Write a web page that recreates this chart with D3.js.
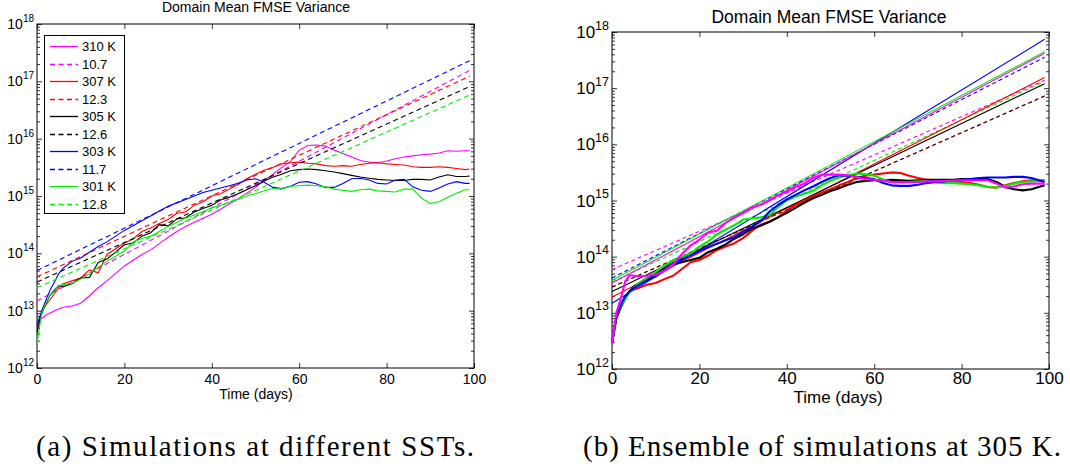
<!DOCTYPE html>
<html><head><meta charset="utf-8">
<script src="https://cdn.jsdelivr.net/npm/d3@7"></script>
<style>
body{margin:0;background:#fff;}
svg{display:block;background:#fff;}
</style></head><body>
<svg id="chart" width="1070" height="467"></svg>
<script>
// ---------------- DATA ----------------
// time axis (days), shared by all time series
const timeDays = [0,1,2,3,4,5,6,
  8,10,12,14,16,18,20,22,24,26,
  28,30,32,34,36,38,40,42,44,46,
  48,50,52,54,56,58,60,62,64,66,
  68,70,72,74,76,78,80,82,84,86,
  88,90,92,94,96,98,99];

// Panel (a): log10 of domain-mean FMSE variance, one series per SST
const sst310 = [12.78,12.86,12.92,12.96,13.00,13.03,13.06,
  13.08,13.13,13.26,13.40,13.52,13.65,13.78,13.88,13.98,14.06,
  14.17,14.28,14.38,14.47,14.54,14.61,14.68,14.77,14.86,14.95,
  15.05,15.15,15.27,15.38,15.50,15.60,15.80,15.88,15.89,15.87,
  15.80,15.74,15.68,15.62,15.59,15.58,15.61,15.65,15.68,15.70,
  15.72,15.73,15.75,15.79,15.78,15.79,15.79];
const sst307 = [12.70,12.95,13.10,13.19,13.30,13.40,13.47,
  13.52,13.57,13.71,13.66,13.98,14.08,14.18,14.25,14.38,14.44,
  14.52,14.59,14.70,14.72,14.84,14.90,15.00,15.04,15.12,15.20,
  15.30,15.38,15.45,15.50,15.56,15.58,15.59,15.57,15.56,15.53,
  15.52,15.53,15.52,15.55,15.57,15.58,15.56,15.55,15.54,15.51,
  15.50,15.50,15.51,15.50,15.48,15.46,15.47];
const sst305 = [12.62,12.95,13.12,13.27,13.36,13.44,13.42,
  13.47,13.57,13.58,13.84,13.90,14.02,14.15,14.18,14.30,14.36,
  14.50,14.48,14.60,14.62,14.72,14.78,14.84,14.93,14.98,15.04,
  15.11,15.18,15.26,15.33,15.38,15.44,15.46,15.47,15.46,15.44,
  15.42,15.39,15.36,15.33,15.31,15.29,15.28,15.27,15.27,15.29,
  15.29,15.28,15.33,15.37,15.34,15.34,15.35];
const sst303 = [12.75,12.98,13.18,13.36,13.50,13.65,13.74,
  13.86,13.92,14.02,14.12,14.20,14.30,14.40,14.48,14.57,14.65,
  14.74,14.82,14.88,14.94,15.00,15.06,15.10,15.14,15.18,15.22,
  15.28,15.30,15.24,15.15,15.13,15.17,15.24,15.25,15.21,15.15,
  15.15,15.22,15.30,15.31,15.28,15.22,15.21,15.28,15.29,15.16,
  15.10,15.08,15.14,15.21,15.25,15.22,15.22];
const sst301 = [12.42,12.92,13.13,13.28,13.37,13.44,13.45,
  13.48,13.55,13.64,13.76,13.86,13.95,14.04,14.20,14.26,14.30,
  14.38,14.47,14.54,14.61,14.67,14.73,14.79,14.84,14.89,14.94,
  15.00,15.04,15.09,15.13,15.12,15.17,15.18,15.19,15.18,15.16,
  15.12,15.10,15.08,15.11,15.12,15.09,15.08,15.07,15.12,15.12,
  14.96,14.87,14.90,14.98,15.05,15.11,15.11];
const sstLabels = ["310 K","307 K","305 K","303 K","301 K"];
const efoldLabels = ["10.7","12.3","12.6","11.7","12.8"];
// exponential fits (straight on log axis): log10 value at fit start / end
const fitDays = [0, 99];
const fitAStart = [13.17, 13.59, 13.50, 13.70, 13.40];
const fitAEnd   = [17.19, 17.09, 16.91, 17.36, 16.76];

// Panel (b): ensemble members at 305 K (log10 variance)
const ensRed = [12.46,12.90,13.10,13.28,13.38,13.42,13.44,
  13.50,13.53,13.60,13.66,13.78,13.90,13.94,14.02,14.12,14.18,
  14.24,14.33,14.46,14.57,14.62,14.70,14.82,14.92,15.00,15.07,
  15.14,15.20,15.27,15.33,15.40,15.44,15.46,15.48,15.50,15.49,
  15.44,15.40,15.37,15.35,15.34,15.34,15.33,15.31,15.28,15.24,
  15.23,15.27,15.31,15.34,15.36,15.36,15.36];
const ensBlack = [12.46,12.92,13.10,13.25,13.38,13.47,13.52,
  13.62,13.70,13.80,13.86,13.90,13.94,13.98,14.08,14.14,14.22,
  14.32,14.40,14.50,14.55,14.62,14.70,14.78,14.87,14.96,15.04,
  15.10,15.17,15.22,15.28,15.33,15.35,15.36,15.36,15.37,15.36,
  15.35,15.36,15.37,15.37,15.37,15.37,15.38,15.38,15.38,15.38,
  15.33,15.24,15.20,15.18,15.20,15.25,15.27];
const ensGreen = [12.46,12.95,13.12,13.25,13.36,13.45,13.52,
  13.62,13.73,13.84,13.94,14.00,14.06,14.18,14.27,14.40,14.48,
  14.56,14.66,14.68,14.70,14.74,14.88,15.00,15.07,15.12,15.17,
  15.27,15.35,15.41,15.45,15.48,15.47,15.44,15.38,15.32,15.32,
  15.33,15.34,15.34,15.32,15.31,15.31,15.30,15.29,15.27,15.24,
  15.23,15.26,15.30,15.33,15.34,15.35,15.35];
const ensBlue = [12.46,12.95,13.15,13.29,13.38,13.44,13.49,
  13.58,13.65,13.77,13.87,13.95,14.02,14.10,14.17,14.23,14.29,
  14.35,14.44,14.53,14.63,14.80,14.92,15.02,15.10,15.18,15.25,
  15.33,15.40,15.45,15.44,15.42,15.40,15.38,15.31,15.27,15.26,
  15.26,15.28,15.31,15.33,15.34,15.36,15.37,15.38,15.40,15.41,
  15.41,15.41,15.42,15.42,15.40,15.35,15.33];
const ensMagenta = [12.46,13.00,13.25,13.55,13.67,13.66,13.65,
  13.66,13.68,13.75,13.86,14.05,14.20,14.30,14.43,14.46,14.60,
  14.70,14.78,14.88,14.92,15.00,15.09,15.16,15.24,15.30,15.40,
  15.46,15.46,15.46,15.45,15.42,15.38,15.37,15.35,15.33,15.33,
  15.33,15.33,15.34,15.34,15.35,15.35,15.36,15.36,15.36,15.36,
  15.30,15.23,15.25,15.29,15.30,15.30,15.30];
// fits for members in order: blue, green, magenta, red, black
const fitBSolidStart = [13.17, 13.58, 13.53, 13.28, 13.38];
const fitBSolidEnd   = [17.87, 17.65, 17.62, 17.19, 17.08];
const fitBDashStart  = [13.62, 13.55, 13.77, 13.46, 13.46];
const fitBDashEnd    = [17.55, 17.12, 17.14, 16.86, 16.86];

const xTickVals = [0,20,40,60,80,100];
const titleText = "Domain Mean FMSE Variance";
const xLabelText = "Time (days)";
const captions = ["(a) Simulations at different SSTs.", "(b) Ensemble of simulations at 305 K."];

// ---------------- STYLE ----------------
const sstColors = ["#ff00ff","#ff0000","#000000","#0000ff","#00ee00"];
const memberColors = ["#0000ff","#00ee00","#ff00ff","#ff0000","#000000"];
const FONT = "'Liberation Sans', Arial, Helvetica, sans-serif";
const SERIF = "'Liberation Serif','Times New Roman',serif";

const svg = d3.select("#chart");

function makePanel(P) {
  const g = svg.append("g");
  const x = d3.scaleLinear().domain([0,100]).range([P.left,P.right]);
  const y = d3.scaleLog().domain([1e12,1e18]).range([P.bottom,P.top]);
  const all = y.ticks();
  const isMajor = v => Math.abs(Math.log10(v) - Math.round(Math.log10(v))) < 1e-9;
  const major = all.filter(isMajor);
  const minor = all.filter(v => !isMajor(v));
  const strip = s => { s.select(".domain").remove(); s.selectAll("line").attr("stroke","#000").attr("stroke-width",0.8); };
  const addAxis = (axis, vals, len, tr) => g.append("g").attr("transform", tr)
      .call(axis.tickValues(vals).tickSize(-len).tickFormat("")).call(strip);
  addAxis(d3.axisLeft(y), major, P.major, `translate(${P.left},0)`);
  addAxis(d3.axisLeft(y), minor, P.minor, `translate(${P.left},0)`);
  addAxis(d3.axisRight(y), major, P.major, `translate(${P.right},0)`);
  addAxis(d3.axisRight(y), minor, P.minor, `translate(${P.right},0)`);
  addAxis(d3.axisTop(x), xTickVals, P.major, `translate(0,${P.top})`);
  const xb = g.append("g").attr("transform", `translate(0,${P.bottom})`)
    .call(d3.axisBottom(x).tickValues(xTickVals).tickSize(-P.major).tickPadding(P.xPad).tickFormat(d3.format("d")))
    .call(strip);
  xb.selectAll("text").attr("font-family", FONT).attr("font-size", P.tickFont).attr("fill","#000");
  // y tick labels 10^n
  major.forEach(v => {
    const t = g.append("text").attr("x", P.left - P.yLabGap).attr("y", y(v) + P.yBase)
      .attr("text-anchor","end").attr("font-family",FONT).attr("fill","#000");
    t.append("tspan").attr("font-size", P.tickFont).text("10");
    t.append("tspan").attr("font-size", P.supFont).attr("dy", -P.supDy).text(Math.round(Math.log10(v)));
  });
  // box
  g.append("rect").attr("x",P.left).attr("y",P.top).attr("width",P.right-P.left).attr("height",P.bottom-P.top)
    .attr("fill","none").attr("stroke","#000").attr("stroke-width",1);
  // title and x label
  g.append("text").attr("x",P.titleX).attr("y",P.titleY).attr("text-anchor","middle")
    .attr("font-family",FONT).attr("font-size",P.titleFont).text(titleText);
  g.append("text").attr("x",P.xLabX).attr("y",P.xLabY).attr("text-anchor","middle")
    .attr("font-family",FONT).attr("font-size",P.xLabFont).text(xLabelText);
  const line = d3.line().x(d => x(d[0])).y(d => y(Math.pow(10, d[1])));
  return {g, x, y, line};
}

// ---------- Panel (a) ----------
const A = makePanel({left:37, right:474, top:24, bottom:368, major:5, minor:3, xPad:6,
  tickFont:14, supFont:10, supDy:7, yLabGap:3, yBase:5,
  titleX:256, titleY:12, titleFont:14, xLabX:256, xLabY:399, xLabFont:14});
const sstSeries = [sst310, sst307, sst305, sst303, sst301];
sstSeries.forEach((s, i) => {
  A.g.append("path").datum(timeDays.map((t, k) => [t, s[k]]))
    .attr("d", A.line).attr("fill","none").attr("stroke", sstColors[i]).attr("stroke-width",1.1);
  A.g.append("path").datum(fitDays.map((t, k) => [t, k === 0 ? fitAStart[i] : fitAEnd[i]]))
    .attr("d", A.line).attr("fill","none").attr("stroke", sstColors[i]).attr("stroke-width",1.1)
    .attr("stroke-dasharray","5,3.5");
});
// legend
const lg = A.g.append("g");
lg.append("rect").attr("x",44.5).attr("y",35.5).attr("width",80).attr("height",178)
  .attr("fill","#fff").attr("stroke","#000").attr("stroke-width",1);
sstLabels.forEach((lab, i) => {
  [[lab, null], [efoldLabels[i], "5,3.5"]].forEach((e, j) => {
    const yy = Math.round(46 + (2*i + j) * 17.5) + 0.5;
    lg.append("line").attr("x1",50).attr("x2",78).attr("y1",yy).attr("y2",yy)
      .attr("stroke", sstColors[i]).attr("stroke-width",1.3).attr("stroke-dasharray", e[1]);
    lg.append("text").attr("x",82).attr("y",yy).attr("dy","0.36em")
      .attr("font-family",FONT).attr("font-size",13).text(e[0]);
  });
});

// ---------- Panel (b) ----------
const B = makePanel({left:612, right:1049, top:32, bottom:369, major:5, minor:3, xPad:3,
  tickFont:17, supFont:12.5, supDy:8.5, yLabGap:3, yBase:6,
  titleX:829, titleY:23, titleFont:17.5, xLabX:838, xLabY:403, xLabFont:17});
memberColors.forEach((c, i) => {
  B.g.append("path").datum(fitDays.map((t, k) => [t, k === 0 ? fitBDashStart[i] : fitBDashEnd[i]]))
    .attr("d", B.line).attr("fill","none").attr("stroke", c).attr("stroke-width",1.1)
    .attr("stroke-dasharray","4,3").attr("stroke-opacity", c === "#000000" ? 0.75 : 1);
});
memberColors.forEach((c, i) => {
  B.g.append("path").datum(fitDays.map((t, k) => [t, k === 0 ? fitBSolidStart[i] : fitBSolidEnd[i]]))
    .attr("d", B.line).attr("fill","none").attr("stroke", c).attr("stroke-width",1.1);
});
const ensSeries = [ensRed, ensBlack, ensGreen, ensBlue, ensMagenta];
const ensColors = ["#ff0000","#000000","#00ee00","#0000ff","#ff00ff"];
ensSeries.forEach((s, i) => {
  B.g.append("path").datum(timeDays.map((t, k) => [t, s[k]]))
    .attr("d", B.line).attr("fill","none").attr("stroke", ensColors[i]).attr("stroke-width",2.1)
    .attr("stroke-linejoin","round");
});

// captions
svg.append("text").attr("x",36).attr("y",456).attr("font-family",SERIF)
  .attr("font-size",29).attr("textLength",438).attr("lengthAdjust","spacing").text(captions[0]);
svg.append("text").attr("x",583).attr("y",456).attr("font-family",SERIF)
  .attr("font-size",29).attr("textLength",478).attr("lengthAdjust","spacing").text(captions[1]);
</script>
</body></html>
